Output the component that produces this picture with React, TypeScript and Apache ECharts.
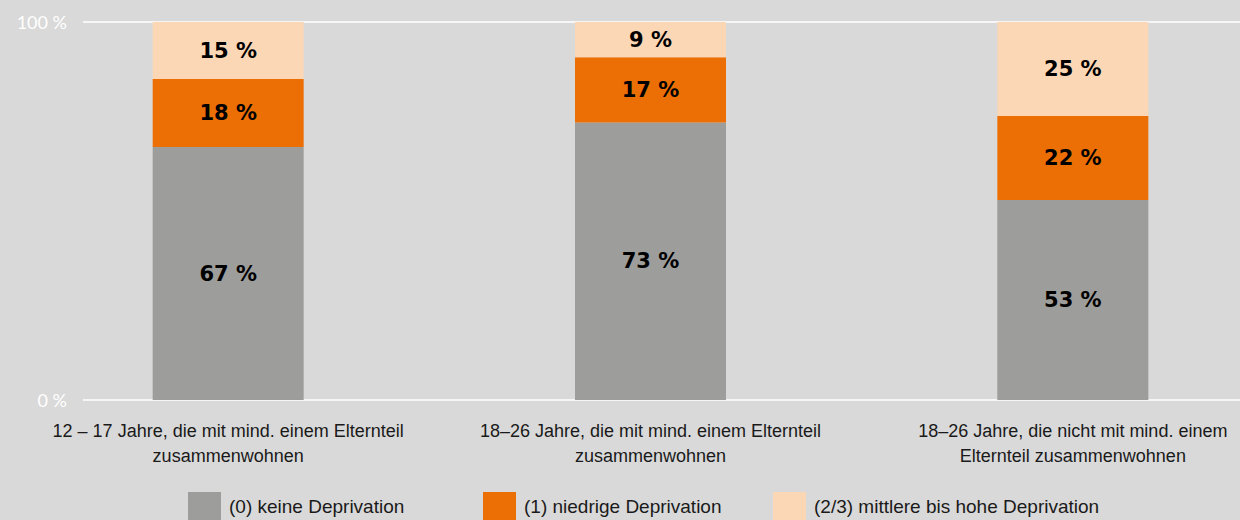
import React, { useEffect, useRef } from "react";
import * as echarts from "echarts";

const categories = [
  "12 – 17 Jahre, die mit mind. einem Elternteil\nzusammenwohnen",
  "18–26 Jahre, die mit mind. einem Elternteil\nzusammenwohnen",
  "18–26 Jahre, die nicht mit mind. einem\nElternteil zusammenwohnen",
];
const seriesNames = [
  "(0) keine Deprivation",
  "(1) niedrige Deprivation",
  "(2/3) mittlere bis hohe Deprivation",
];
const keineDeprivation = [66.9, 73.4, 52.9];
const niedrigeDeprivation = [18.0, 17.3, 22.2];
const mittlereHoheDeprivation = [15.1, 9.3, 24.9];
const yTicks = [0, 100];

const colors = ["#9d9d9b", "#ec6f05", "#fcd7b5"];

export default function App() {
  const ref = useRef<HTMLDivElement>(null);
  useEffect(() => {
    if (!ref.current) return;
    const chart = echarts.init(ref.current, undefined, { renderer: "svg" });
    const values = [keineDeprivation, niedrigeDeprivation, mittlereHoheDeprivation];
    const legendLefts = [188, 483, 773];
    chart.setOption({
      animation: false,
      backgroundColor: "#d9d9d9",
      grid: [
        { left: 83, right: 0, top: 22, height: 378, outerBoundsMode: "none" },
        { left: 17, width: 1267, top: 22, height: 378, outerBoundsMode: "none" },
      ],
      xAxis: [
        { gridIndex: 0, type: "value", min: 0, max: 1, show: false },
        {
          gridIndex: 1,
          type: "category",
          data: categories,
          axisLine: { show: false },
          axisTick: { show: false },
          axisLabel: {
            margin: 18,
            color: "#1a1a1a",
            fontFamily: "Liberation Sans",
            fontSize: 18,
            lineHeight: 25,
            align: "center",
            hideOverlap: false,
            interval: 0,
          },
        },
      ],
      yAxis: [
        {
          gridIndex: 0,
          type: "value",
          min: yTicks[0],
          max: yTicks[1],
          interval: 100,
          axisLine: { show: false },
          axisTick: { show: false },
          axisLabel: {
            margin: 16,
            color: "#ffffff",
            fontFamily: "Lato",
            fontSize: 18,
            formatter: (v: number) => v + " %",
          },
          splitLine: { show: true, lineStyle: { color: "#ffffff", width: 1.5 } },
        },
        { gridIndex: 1, type: "value", min: 0, max: 100, show: false, splitLine: { show: false } },
      ],
      legend: seriesNames.map((name, i) => ({
        data: [name],
        left: legendLefts[i],
        top: 492,
        padding: 0,
        itemWidth: 33,
        itemHeight: 28,
        itemGap: 0,
        icon: "rect",
        textStyle: {
          color: "#1a1a1a",
          fontFamily: "Liberation Sans",
          fontSize: 19,
          padding: [0, 0, 0, 3],
        },
      })),
      series: seriesNames.map((name, i) => ({
        name,
        type: "bar",
        stack: "total",
        xAxisIndex: 1,
        yAxisIndex: 1,
        barWidth: 151,
        data: values[i],
        itemStyle: { color: colors[i] },
        label: {
          show: true,
          position: "inside",
          color: "#000000",
          fontFamily: "DejaVu Sans",
          fontWeight: "bold",
          fontSize: 21,
          formatter: (p: any) => Math.round(p.value) + " %",
        },
      })),
    });
    return () => chart.dispose();
  }, []);
  return (
    <div
      ref={ref}
      style={{ position: "fixed", left: 0, top: 0, width: 1240, height: 520 }}
    />
  );
}
